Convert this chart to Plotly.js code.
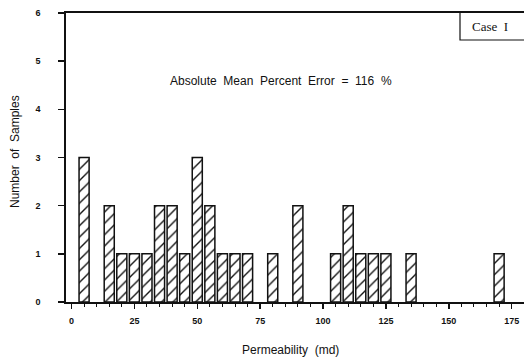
<!DOCTYPE html>
<html>
<head>
<meta charset="utf-8">
<script src="https://cdn.plot.ly/plotly-3.0.1.min.js"></script>
<style>html,body{margin:0;padding:0;background:#fff;}#chart{width:524px;height:361px;}</style>
</head>
<body>
<div id="chart"></div>
<script>
// Bin centers (md) and counts
const permeability = [5, 15, 20, 25, 30, 35, 40, 45, 50, 55, 60, 65, 70, 80, 90, 105, 110, 115, 120, 125, 135, 170];
const samples      = [3, 2, 1, 1, 1, 2, 2, 1, 3, 2, 1, 1, 1, 1, 2, 1, 2, 1, 1, 1, 1, 1];
const yTicks = [0, 1, 2, 3, 4, 5, 6];
const xTicks = [0, 25, 50, 75, 100, 125, 150, 175];
const noteText = "Absolute\u00a0 Mean\u00a0 Percent\u00a0 Error\u00a0 =\u00a0 116\u00a0 %";
const caseText = "Case\u00a0 I";

const trace = {
  type: 'bar',
  x: permeability,
  y: samples,
  width: permeability.map(() => 4),
  marker: {
    color: '#ffffff',
    line: {color: '#111', width: 1.5},
    pattern: {shape: '/', fgcolor: '#111', bgcolor: '#ffffff', size: 8, solidity: 0.17}
  },
  hoverinfo: 'skip'
};

const tickFont = {family: 'Liberation Sans, Arial, sans-serif', size: 9, weight: 'bold', color: '#111'};

const layout = {
  width: 524, height: 361,
  margin: {l: 66, r: 0, t: 13, b: 59},
  paper_bgcolor: '#fff', plot_bgcolor: '#fff',
  showlegend: false,
  font: {family: 'Liberation Sans, Arial, sans-serif', color: '#111'},
  xaxis: {
    range: [-2.19, 179.9],
    tickvals: xTicks, ticktext: xTicks.map(String),
    ticks: 'outside', ticklen: 5, tickwidth: 1.5, tickcolor: '#111',
    minor: {dtick: 5, tick0: 0, ticks: 'outside', ticklen: 3, tickwidth: 1, tickcolor: '#111'},
    showline: true, linecolor: '#111', linewidth: 1.6, mirror: true,
    showgrid: false, zeroline: false,
    tickfont: tickFont,
    ticklabelstandoff: 5,
    fixedrange: true
  },
  yaxis: {
    range: [0, 6],
    tickvals: yTicks, ticktext: yTicks.map(String),
    ticks: 'outside', ticklen: 6, tickwidth: 1.5, tickcolor: '#111',
    showline: true, linecolor: '#111', linewidth: 1.6,
    showgrid: false, zeroline: false,
    tickfont: tickFont,
    ticklabelstandoff: 16,
    fixedrange: true
  },
  annotations: [
    {text: noteText, xref: 'paper', yref: 'paper', x: (281-66)/458, y: (302-81)/289,
     showarrow: false, xanchor: 'center', yanchor: 'middle',
     font: {size: 12, family: 'Liberation Sans, Arial, sans-serif', color: '#111'}},
    {text: 'Permeability\u00a0 (md)', xref: 'paper', yref: 'paper', x: (290-66)/458, y: (302-350)/289,
     showarrow: false, xanchor: 'center', yanchor: 'middle',
     font: {size: 12, family: 'Liberation Sans, Arial, sans-serif', color: '#111'}},
    {text: 'Number\u00a0 of\u00a0 Samples', xref: 'paper', yref: 'paper', x: (15-66)/458, y: (302-152)/289,
     showarrow: false, xanchor: 'center', yanchor: 'middle', textangle: -90,
     font: {size: 12, family: 'Liberation Sans, Arial, sans-serif', color: '#111'}},
    {text: caseText, xref: 'paper', yref: 'paper', x: (490-66)/458, y: (302-27)/289,
     showarrow: false, xanchor: 'center', yanchor: 'middle',
     font: {size: 13, family: 'Liberation Serif, Times New Roman, serif', color: '#111'}}
  ],
  shapes: [
    {type: 'path', xref: 'paper', yref: 'paper',
     path: 'M ' + ((460-66)/458) + ' 1 L ' + ((460-66)/458) + ' ' + ((302-40)/289) + ' L 1.02 ' + ((302-40)/289),
     line: {color: '#111', width: 1.2}}
  ]
};

Plotly.newPlot('chart', [trace], layout, {staticPlot: true, displayModeBar: false});
</script>
</body>
</html>
